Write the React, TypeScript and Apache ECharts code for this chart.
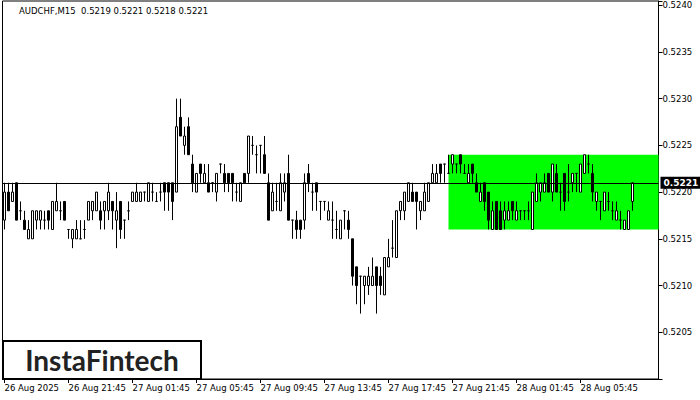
import React, { useEffect, useRef } from "react";
import * as echarts from "echarts";

const chartTitle = "AUDCHF,M15  0.5219 0.5221 0.5218 0.5221";
const brandText = "InstaFintech";
const timeTickLabels = [
  "26 Aug 2025",
  "26 Aug 21:45",
  "27 Aug 01:45",
  "27 Aug 05:45",
  "27 Aug 09:45",
  "27 Aug 13:45",
  "27 Aug 17:45",
  "27 Aug 21:45",
  "28 Aug 01:45",
  "28 Aug 05:45",
];
const barsPerTimeTick = 16;
const totalBarSlots = 164;

const opens = [
  0.5217, 0.522, 0.5219, 0.5221, 0.5218, 0.5217, 0.5215, 0.5215, 0.5217, 0.5217,
  0.5217, 0.5218, 0.5216, 0.5218, 0.5218, 0.5219, 0.5216, 0.5215, 0.5215, 0.5215,
  0.5216, 0.5217, 0.5218, 0.5218, 0.5218, 0.5218, 0.5218, 0.5219, 0.5217, 0.5219,
  0.5217, 0.5218, 0.5219, 0.5219, 0.5219, 0.522, 0.5219, 0.522, 0.5219, 0.522,
  0.5221, 0.5221, 0.5221, 0.522, 0.5228, 0.5225, 0.5227, 0.5223, 0.522, 0.5223,
  0.5221, 0.5221, 0.5221, 0.522, 0.5223, 0.5222, 0.5222, 0.5222, 0.522, 0.5219,
  0.5222, 0.5222, 0.5225, 0.5224, 0.5225, 0.5224, 0.5221, 0.5218, 0.5219, 0.5218,
  0.522, 0.5222, 0.5217, 0.5217, 0.5217, 0.5217, 0.5222, 0.522, 0.5221, 0.5219,
  0.5219, 0.5217, 0.5217, 0.5216, 0.5215, 0.5218, 0.5217, 0.5215, 0.5212, 0.5211,
  0.521, 0.521, 0.521, 0.5212, 0.5211, 0.5209, 0.5212, 0.5214, 0.5213, 0.5218,
  0.5218, 0.5219, 0.522, 0.522, 0.5218, 0.5218, 0.5219, 0.5221, 0.5221, 0.5223,
  0.5223, 0.5222, 0.5223, 0.5223, 0.5224, 0.5222, 0.5221, 0.5223, 0.5221, 0.5219,
  0.5221, 0.522, 0.5216, 0.5219, 0.5218, 0.5217, 0.5217, 0.5219, 0.5217, 0.5218,
  0.5218, 0.5218, 0.5216, 0.5219, 0.522, 0.522, 0.5222, 0.522, 0.5222, 0.522,
  0.5222, 0.522, 0.5221, 0.5222, 0.522, 0.5222, 0.5223, 0.5222, 0.5219, 0.5219,
  0.5218, 0.5219, 0.5218, 0.5217, 0.5217, 0.5216, 0.5216, 0.5219,
];
const highs = [
  0.5221, 0.5221, 0.5221, 0.5221, 0.5219, 0.5218, 0.5217, 0.5218, 0.5218, 0.5218,
  0.5218, 0.5218, 0.5219, 0.5221, 0.5219, 0.5219, 0.5216, 0.5216, 0.5217, 0.5217,
  0.5217, 0.5219, 0.5219, 0.522, 0.5219, 0.5219, 0.5221, 0.5219, 0.522, 0.5219,
  0.5217, 0.5219, 0.522, 0.5221, 0.522, 0.522, 0.5221, 0.5221, 0.522, 0.5221,
  0.5221, 0.5221, 0.5221, 0.523, 0.523, 0.5227, 0.5228, 0.5224, 0.5222, 0.5223,
  0.5223, 0.5223, 0.5221, 0.5222, 0.5223, 0.5223, 0.5222, 0.5222, 0.5221, 0.5221,
  0.5222, 0.5226, 0.5226, 0.5225, 0.5225, 0.5226, 0.5222, 0.5221, 0.5221, 0.5222,
  0.5222, 0.5224, 0.5217, 0.5218, 0.5217, 0.5222, 0.5223, 0.5221, 0.5221, 0.5219,
  0.5219, 0.5219, 0.5219, 0.5218, 0.5217, 0.5218, 0.5218, 0.5215, 0.5212, 0.5211,
  0.5211, 0.5212, 0.5213, 0.5212, 0.5212, 0.5213, 0.5215, 0.5217, 0.5218, 0.5219,
  0.522, 0.5221, 0.5221, 0.522, 0.5219, 0.5221, 0.5221, 0.5223, 0.5223, 0.5223,
  0.5223, 0.5224, 0.5224, 0.5223, 0.5224, 0.5223, 0.5223, 0.5223, 0.5222, 0.5221,
  0.5221, 0.522, 0.5219, 0.5219, 0.5219, 0.5219, 0.5219, 0.5219, 0.5219, 0.5218,
  0.5218, 0.5219, 0.522, 0.5222, 0.5221, 0.5222, 0.5222, 0.5223, 0.5223, 0.5221,
  0.5222, 0.5223, 0.5222, 0.5222, 0.5223, 0.5224, 0.5224, 0.5223, 0.522, 0.5219,
  0.522, 0.522, 0.5219, 0.5219, 0.5218, 0.5217, 0.5218, 0.5221,
];
const lows = [
  0.5216, 0.5218, 0.5219, 0.5217, 0.5217, 0.5216, 0.5215, 0.5215, 0.5216, 0.5216,
  0.5216, 0.5216, 0.5216, 0.5218, 0.5217, 0.5217, 0.5215, 0.5214, 0.5215, 0.5215,
  0.5215, 0.5217, 0.5217, 0.5218, 0.5216, 0.5216, 0.5217, 0.5216, 0.5214, 0.5215,
  0.5215, 0.5217, 0.5219, 0.5219, 0.5219, 0.5219, 0.5219, 0.5219, 0.5219, 0.5219,
  0.5218, 0.5218, 0.5217, 0.522, 0.5226, 0.5224, 0.5224, 0.522, 0.522, 0.5221,
  0.5221, 0.522, 0.522, 0.5219, 0.5222, 0.522, 0.522, 0.5219, 0.5219, 0.5219,
  0.5221, 0.5221, 0.5224, 0.5222, 0.5222, 0.5222, 0.5217, 0.5218, 0.5218, 0.5218,
  0.5219, 0.5217, 0.5215, 0.5215, 0.5215, 0.5216, 0.522, 0.5218, 0.5218, 0.5217,
  0.5218, 0.5217, 0.5215, 0.5215, 0.5215, 0.5216, 0.5215, 0.521, 0.5208, 0.5207,
  0.5208, 0.5209, 0.521, 0.5207, 0.5209, 0.5209, 0.5212, 0.5213, 0.5213, 0.5217,
  0.5217, 0.5219, 0.5219, 0.5216, 0.5217, 0.5218, 0.5219, 0.5221, 0.5221, 0.5221,
  0.5221, 0.5222, 0.5222, 0.5222, 0.5222, 0.5222, 0.5221, 0.5221, 0.522, 0.5219,
  0.5218, 0.5216, 0.5216, 0.5216, 0.5216, 0.5216, 0.5217, 0.5217, 0.5217, 0.5217,
  0.5217, 0.5217, 0.5216, 0.5219, 0.5219, 0.522, 0.522, 0.5219, 0.522, 0.5218,
  0.5218, 0.5219, 0.522, 0.522, 0.522, 0.5222, 0.5222, 0.5219, 0.5218, 0.5217,
  0.5218, 0.5218, 0.5217, 0.5217, 0.5216, 0.5216, 0.5216, 0.5218,
];
const closes = [
  0.522, 0.5218, 0.522, 0.5217, 0.5218, 0.5216, 0.5216, 0.5218, 0.5218, 0.5218,
  0.5217, 0.5217, 0.5219, 0.5219, 0.5218, 0.5217, 0.5216, 0.5216, 0.5216, 0.5215,
  0.5216, 0.5219, 0.5219, 0.522, 0.5217, 0.5219, 0.522, 0.5218, 0.5218, 0.5216,
  0.5217, 0.5218, 0.522, 0.522, 0.522, 0.522, 0.5221, 0.522, 0.5219, 0.522,
  0.522, 0.522, 0.5219, 0.5227, 0.5226, 0.5226, 0.5224, 0.5221, 0.5222, 0.5222,
  0.5222, 0.522, 0.5221, 0.5222, 0.5223, 0.5221, 0.5221, 0.5221, 0.522, 0.5221,
  0.5221, 0.5226, 0.5225, 0.5224, 0.5225, 0.5222, 0.5217, 0.522, 0.5219, 0.5221,
  0.5221, 0.5217, 0.5217, 0.5216, 0.5216, 0.5221, 0.5221, 0.522, 0.522, 0.5219,
  0.5219, 0.5218, 0.5217, 0.5216, 0.5217, 0.5218, 0.5216, 0.5211, 0.521, 0.5211,
  0.5211, 0.5211, 0.5211, 0.521, 0.521, 0.5213, 0.5213, 0.5214, 0.5218, 0.5219,
  0.522, 0.5221, 0.5219, 0.5219, 0.5219, 0.522, 0.5221, 0.5222, 0.5222, 0.5222,
  0.5223, 0.5222, 0.5224, 0.5223, 0.5223, 0.5222, 0.5222, 0.5222, 0.522, 0.522,
  0.5219, 0.5217, 0.5218, 0.5216, 0.5216, 0.5218, 0.5218, 0.5218, 0.5218, 0.5218,
  0.5218, 0.5218, 0.522, 0.5221, 0.5221, 0.5221, 0.522, 0.5223, 0.522, 0.522,
  0.5219, 0.522, 0.5222, 0.5222, 0.5223, 0.5224, 0.5223, 0.522, 0.522, 0.5219,
  0.522, 0.5219, 0.5218, 0.5218, 0.5217, 0.5217, 0.5218, 0.5221,
];

const currentPrice = 0.5221;
const currentPriceText = "0.5221";
const rectangleTop = 0.5224;
const rectangleBottom = 0.5216;
const rectangleStartBar = 111;
const priceMin = 0.52;
const priceMax = 0.524045;
const priceStep = 0.0005;

const FONT = "DejaVu Sans";

export default function App() {
  const ref = useRef<HTMLDivElement>(null);

  useEffect(() => {
    document.body.style.margin = "0";
    const chart = echarts.init(ref.current!, undefined, { renderer: "svg" });

    const slots = Array.from({ length: totalBarSlots }, (_, i) => String(i));
    const isTimeTick = (i: number) =>
      i % barsPerTimeTick === 0 && i / barsPerTimeTick < timeTickLabels.length;
    const candles = opens.map((o, i) => [o, closes[i], lows[i], highs[i]]);

    const option: any = {
      animation: false,
      backgroundColor: "#fff",
      grid: {
        left: 2.5,
        right: 41.5,
        top: 1,
        bottom: 21,
        show: true,
        borderColor: "#000",
        borderWidth: 1,
        backgroundColor: "#fff",
      },
      xAxis: {
        type: "category",
        data: slots,
        boundaryGap: true,
        axisLine: { show: true, lineStyle: { color: "#000", width: 1 } },
        axisTick: {
          show: true,
          alignWithLabel: true,
          interval: (i: number) => isTimeTick(i),
          length: 4,
          lineStyle: { color: "#000" },
        },
        axisLabel: {
          interval: (i: number) => isTimeTick(i),
          formatter: (_v: string, i: number) =>
            isTimeTick(i) ? timeTickLabels[i / barsPerTimeTick] : "",
          align: "left",
          color: "#000",
          fontFamily: FONT,
          fontSize: 8.5,
          margin: 4,
        },
        splitLine: { show: false },
      },
      yAxis: {
        type: "value",
        position: "right",
        min: priceMin,
        max: priceMax,
        interval: priceStep,
        axisLine: { show: true, lineStyle: { color: "#000", width: 1 } },
        axisTick: { show: true, length: 4, lineStyle: { color: "#000" } },
        axisLabel: {
          color: "#000",
          fontFamily: FONT,
          fontSize: 8.5,
          margin: 4,
          formatter: (v: number) => {
            const n = Math.round(v / priceStep);
            if (Math.abs(v - n * priceStep) > 1e-7) return "";
            if (v < priceMin + 1e-6) return "";
            return v.toFixed(4);
          },
        },
        splitLine: { show: false },
      },
      series: [
        {
          type: "candlestick",
          data: candles,
          barWidth: 2,
          large: false,
          z: 3,
          itemStyle: {
            color: "#ffffff",
            color0: "#000000",
            borderColor: "#000000",
            borderColor0: "#000000",
            borderColorDoji: "#000000",
            borderWidth: 1,
          },
          markArea: {
            silent: true,
            itemStyle: { color: "#00ff00", opacity: 1 },
            label: { show: false },
            data: [
              [
                { xAxis: rectangleStartBar - 0.5, yAxis: rectangleTop },
                { xAxis: Infinity, yAxis: rectangleBottom },
              ],
            ],
          },
        },
        {
          type: "line",
          data: [],
          z: 2,
          markLine: {
            silent: true,
            precision: 4,
            symbol: ["none", "none"],
            lineStyle: { color: "#000", width: 1, type: "solid" },
            label: {
              show: true,
              position: "end",
              formatter: currentPriceText,
              color: "#fff",
              backgroundColor: "#000",
              padding: [2, 4, 1, 3],
              fontFamily: FONT,
              fontSize: 9,
              fontWeight: "bold",
              distance: 2,
            },
            data: [{ yAxis: currentPrice }],
          },
        },
      ],
      graphic: [
        {
          type: "text",
          left: 19,
          top: 6,
          z: 100,
          style: {
            text: chartTitle,
            fill: "#000",
            fontFamily: FONT,
            fontSize: 8.5,
          },
        },
        {
          type: "group",
          left: 2,
          top: 340,
          z: 100,
          children: [
            {
              type: "rect",
              shape: { x: 1, y: 1, width: 198, height: 38 },
              style: { fill: "#fff", stroke: "#000", lineWidth: 2 },
            },
            {
              type: "text",
              x: 100,
              y: 20,
              style: {
                text: brandText,
                fill: "#222",
                fontFamily: "Lato",
                fontWeight: "bold",
                fontSize: 28,
                textAlign: "center",
                textVerticalAlign: "middle",
              },
            },
          ],
        },
      ],
    };

    chart.setOption(option);
    return () => chart.dispose();
  }, []);

  return <div ref={ref} style={{ width: 700, height: 400, background: "#fff" }} />;
}
